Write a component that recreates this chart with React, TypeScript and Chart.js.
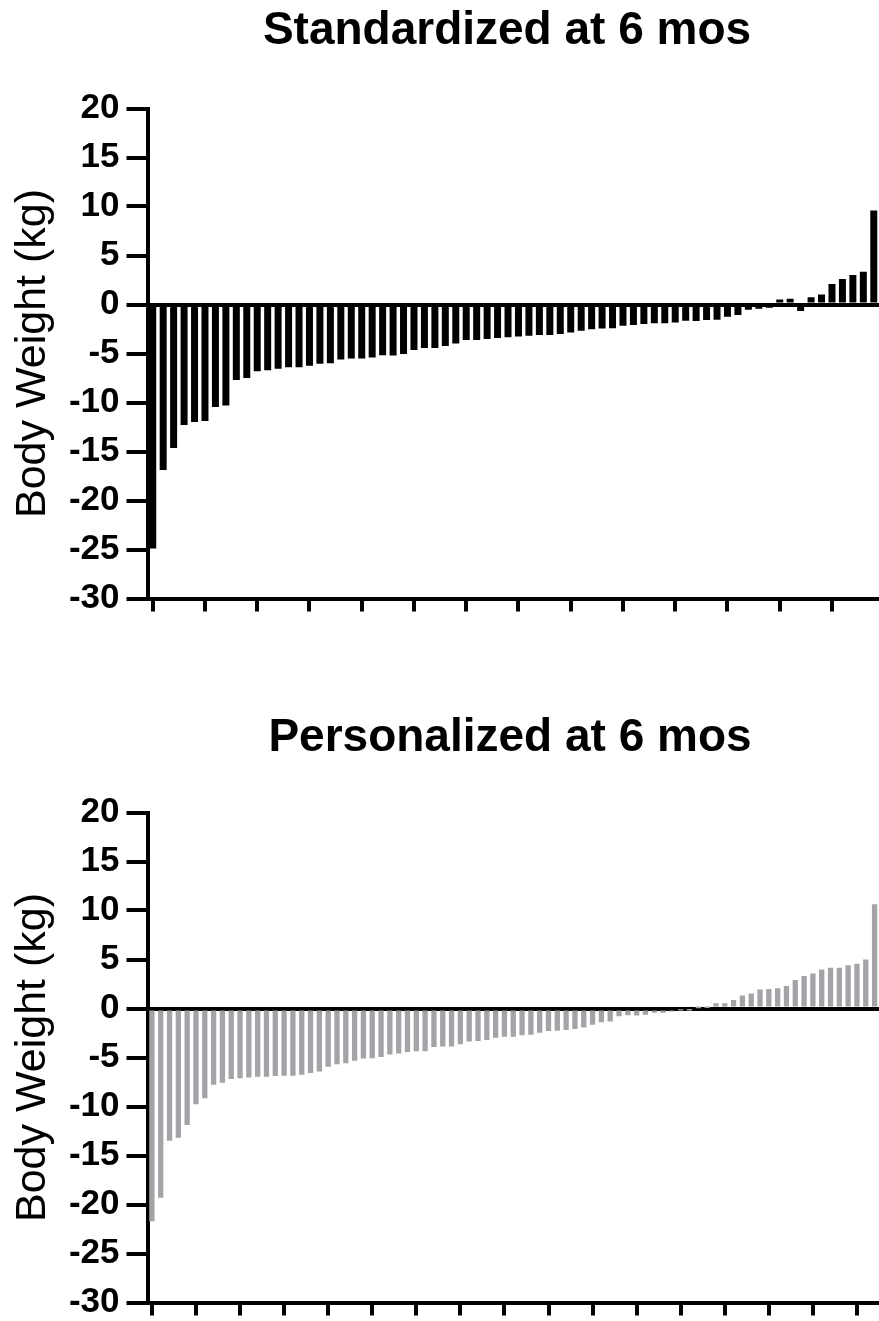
import React, { useEffect, useRef } from 'react';
import { Chart, registerables } from 'chart.js';

Chart.register(...registerables);

// ---- Data ----
const standardizedValues = [
  -24.9, -16.9, -14.65, -12.3, -12.0, -11.9, -10.45, -10.3, -7.7, -7.5,
  -6.8, -6.7, -6.55, -6.4, -6.4, -6.25, -6.05, -6.0, -5.6, -5.5,
  -5.5, -5.4, -5.17, -5.2, -5.04, -4.64, -4.43, -4.43, -4.23, -3.99,
  -3.61, -3.61, -3.51, -3.41, -3.34, -3.27, -3.2, -3.1, -3.1, -3.0,
  -2.86, -2.69, -2.52, -2.45, -2.42, -2.17, -2.08, -1.98, -1.91, -1.91,
  -1.84, -1.67, -1.68, -1.57, -1.55, -1.26, -1.06, -0.53, -0.44, -0.32,
  0.5, 0.58, -0.66, 0.74, 1.01, 2.1, 2.59, 3.0, 3.34, 9.6,
];

const personalizedValues = [
  -21.7, -19.3, -13.5, -13.2, -11.9, -9.77, -9.16, -7.78, -7.57, -7.2,
  -7.13, -7.03, -6.97, -6.97, -6.9, -6.86, -6.86, -6.76, -6.59, -6.42,
  -5.95, -5.68, -5.58, -5.34, -5.1, -5.07, -4.94, -4.7, -4.6, -4.43,
  -4.36, -4.36, -3.92, -3.89, -3.89, -3.65, -3.38, -3.31, -3.21, -2.98,
  -2.87, -2.87, -2.74, -2.67, -2.47, -2.3, -2.26, -2.2, -2.1, -1.93,
  -1.66, -1.4, -1.32, -0.78, -0.7, -0.71, -0.64, -0.44, -0.44, -0.3,
  -0.08, -0.04, 0.03, 0.06, 0.54, 0.54, 0.88, 1.32, 1.52, 1.93,
  2.0, 2.06, 2.3, 2.91, 3.31, 3.58, 3.99, 4.16, 4.16, 4.41,
  4.56, 5.0, 10.65,
];

const standardizedLabels = standardizedValues.map((_, i) => `S${i + 1}`);
const personalizedLabels = personalizedValues.map((_, i) => `P${i + 1}`);

const panelTitles = ['Standardized at 6 mos', 'Personalized at 6 mos'];
const yAxisTitle = 'Body Weight (kg)';
const yMin = -30;
const yMax = 20;
const yStep = 5;
const barColors = ['#000000', '#A3A3A8'];

const FONT = '"Liberation Sans", Arial, Helvetica, sans-serif';

type PanelProps = {
  title: string;
  labels: string[];
  values: number[];
  color: string;
  barPct: number;
  titleX: number;
  titleY: number;
};

function Panel({ title, labels, values, color, barPct, titleX, titleY }: PanelProps) {
  const ref = useRef<HTMLCanvasElement | null>(null);

  useEffect(() => {
    if (!ref.current) return;
    const titlePlugin = {
      id: 'panelTitle',
      afterDraw(chart: any) {
        const ctx = chart.ctx;
        ctx.save();
        ctx.font = `bold 46px ${FONT}`;
        ctx.fillStyle = '#000';
        ctx.textAlign = 'center';
        ctx.textBaseline = 'alphabetic';
        ctx.fillText(title, titleX, titleY);
        ctx.restore();
      },
    };
    const chart = new Chart(ref.current, {
      type: 'bar',
      data: {
        labels,
        datasets: [
          {
            data: values,
            backgroundColor: color,
            borderWidth: 0,
            barPercentage: barPct,
            categoryPercentage: 1,
          },
        ],
      },
      options: {
        animation: false,
        responsive: false,
        layout: { padding: { top: 108.5, bottom: 92.5, left: 0, right: 0 } },
        plugins: {
          legend: { display: false },
          tooltip: { enabled: false },
          title: { display: false },
        },
        scales: {
          x: {
            type: 'category',
            offset: true,
            ticks: { display: false, autoSkip: false },
            grid: {
              display: true,
              offset: false,
              drawOnChartArea: false,
              drawTicks: true,
              tickLength: 13,
              lineWidth: 4,
              color: (ctx: any) => (ctx.index % 5 === 0 ? '#000' : 'rgba(0,0,0,0)'),
            },
            border: { display: true, color: '#000', width: 4 },
            afterFit: (s: any) => {
              s.height = 13;
            },
          },
          y: {
            min: yMin,
            max: yMax,
            z: 1,
            ticks: {
              stepSize: yStep,
              color: '#000',
              padding: 7,
              font: { family: FONT, size: 35, weight: 'bold' },
            },
            grid: {
              drawOnChartArea: true,
              drawTicks: true,
              tickLength: 21,
              lineWidth: 4,
              tickWidth: 4,
              tickColor: '#000',
              color: (ctx: any) => (ctx.tick && ctx.tick.value === 0 ? '#000' : 'rgba(0,0,0,0)'),
            },
            border: { display: true, color: '#000', width: 4 },
            title: {
              display: true,
              text: yAxisTitle,
              color: '#000',
              font: { family: FONT, size: 43, weight: 'normal' },
              padding: { top: 7, bottom: 0 },
            },
            afterFit: (s: any) => {
              s.width = 147.5;
            },
          },
        },
      } as any,
      plugins: [titlePlugin],
    });
    return () => chart.destroy();
  }, [title, labels, values, color, barPct, titleX, titleY]);

  return <canvas ref={ref} width={879} height={704} style={{ display: 'block' }} />;
}

export default function App() {
  return (
    <div
      style={{
        position: 'absolute',
        left: 0,
        top: 0,
        width: 879,
        height: 1321,
        overflow: 'hidden',
        background: '#fff',
      }}
    >
      <div style={{ position: 'absolute', left: 0, top: 0 }}>
        <Panel
          title={panelTitles[0]}
          labels={standardizedLabels}
          values={standardizedValues}
          color={barColors[0]}
          barPct={0.67}
          titleX={507}
          titleY={44}
        />
      </div>
      <div style={{ position: 'absolute', left: 0, top: 704 }}>
        <Panel
          title={panelTitles[1]}
          labels={personalizedLabels}
          values={personalizedValues}
          color={barColors[1]}
          barPct={0.6}
          titleX={510}
          titleY={47}
        />
      </div>
    </div>
  );
}
